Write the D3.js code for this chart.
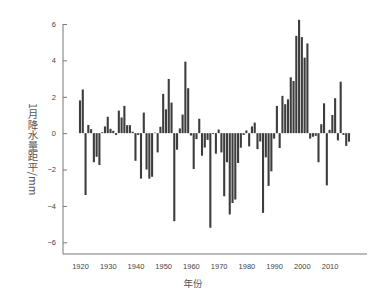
<!DOCTYPE html>
<html><head><meta charset="utf-8">
<script src="https://cdn.jsdelivr.net/npm/d3@7"></script>
<style>
html,body{margin:0;padding:0;background:#fff;}
body{position:relative;width:391px;height:292px;overflow:hidden;}
svg{display:block;position:absolute;left:0;top:0;}
#ytitle{position:absolute;left:27.5px;top:103px;writing-mode:vertical-rl;text-orientation:mixed;
  font-family:"Noto Sans CJK SC",sans-serif;font-size:10.5px;line-height:11px;color:#555;white-space:nowrap;}
</style>
</head><body>
<script>
const years = d3.range(1920, 2018);
const values = [
 1.8, 2.4, -3.4, 0.45, 0.22, -1.6, -1.3, -1.75, 0.05, 0.37,
 0.9, 0.24, 0.13, -0.1, 1.24, 0.86, 1.5, 0.44, 0.44, 0.08,
 -1.52, -0.1, -2.5, 1.13, -2.0, -2.5, -2.4, 0.03, -1.06, 0.35,
 2.16, 1.31, 2.98, 1.68, -4.84, -0.91, 0.26, 1.02, 3.93, 2.47,
 -0.13, -1.97, -0.33, 0.79, -1.24, -0.79, -0.37, -5.2, -0.05, -1.13,
 0.2, -1.06, -3.47, -1.6, -4.47, -3.84, -3.65, -1.64, -0.8, -0.1,
 0.15, -0.73, 0.37, 0.58, -0.88, -0.46, -4.38, -1.33, -2.9, -2.1,
 -0.3, 1.5, -0.82, 2.05, 1.59, 1.86, 3.07, 2.87, 5.35, 6.23,
 5.28, 4.15, 4.93, -0.3, -0.2, -0.15, -1.6, 0.49, 1.64, -2.87,
 0.18, 1.0, 1.92, -0.4, 2.83, -0.1, -0.7, -0.47
];
const xTicks = [1920, 1930, 1940, 1950, 1960, 1970, 1980, 1990, 2000, 2010];
const yTicks = [-6, -4, -2, 0, 2, 4, 6];
const xTitle = "年份";
const yTitle = "1月降水量距平/mm";

const W = 391, H = 292;
const svg = d3.select("body").append("svg").attr("width", W).attr("height", H);

const x = d3.scaleLinear().domain([1920, 2017]).range([80, 349]);
const y = d3.scaleLinear().domain([-6, 6]).range([242.3, 24]);
const axisLeftX = 63, axisBottomY = 254, axisRightX = 367;
const bw = 2.1;

// bars
svg.append("g").selectAll("rect").data(years.map((yr, i) => ({yr, v: values[i]})))
  .join("rect")
  .attr("x", d => x(d.yr) - bw / 2)
  .attr("width", bw)
  .attr("y", d => y(Math.max(0, d.v)))
  .attr("height", d => Math.abs(y(d.v) - y(0)))
  .attr("fill", "#3d3d3d");

// y axis
const yAxis = d3.axisLeft(y).tickValues(yTicks).tickSize(-4).tickPadding(7).tickFormat(d3.format("d"));
const gy = svg.append("g").attr("transform", `translate(${axisLeftX},0)`).call(yAxis);
gy.select(".domain").remove();
gy.append("line").attr("x1", 0).attr("x2", 0).attr("y1", y(6)).attr("y2", axisBottomY)
  .attr("stroke", "#777").attr("stroke-width", 1);
gy.selectAll(".tick line").attr("stroke", "#777");
gy.selectAll(".tick text").attr("fill", "#444").style("font-family", "Liberation Sans, Arial, sans-serif").style("font-size", "7.5px");

// x axis
const xAxis = d3.axisBottom(x).tickValues(xTicks).tickSize(0).tickPadding(10).tickFormat(d3.format("d"));
const gx = svg.append("g").attr("transform", `translate(0,${axisBottomY})`).call(xAxis);
gx.select(".domain").remove();
gx.append("line").attr("x1", axisLeftX).attr("x2", axisRightX).attr("y1", 0).attr("y2", 0)
  .attr("stroke", "#777").attr("stroke-width", 1);
gx.selectAll(".tick text").attr("fill", "#444").style("font-family", "Liberation Sans, Arial, sans-serif").style("font-size", "7.5px");

// x title
svg.append("text").attr("x", 193).attr("y", 287).attr("text-anchor", "middle")
  .attr("fill", "#555").style("font-family", "Noto Sans CJK SC, sans-serif").style("font-size", "9.5px")
  .text(xTitle);

// y title (vertical writing: CJK upright, Latin rotated)
d3.select("body").append("div").attr("id", "ytitle").text(yTitle);
</script>
</body></html>
